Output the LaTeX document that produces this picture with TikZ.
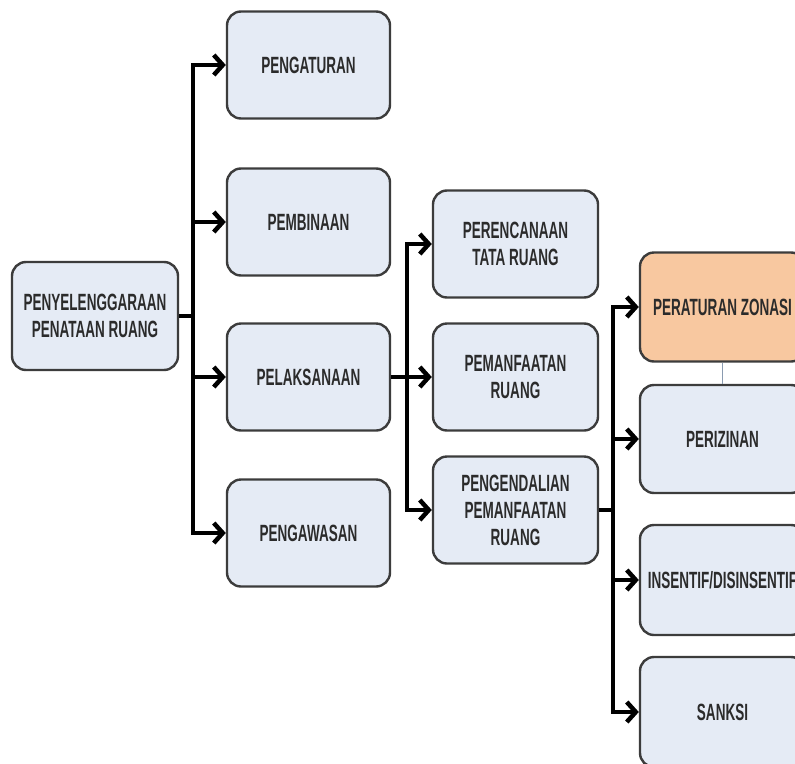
\documentclass[tikz,border=0pt]{standalone}
\usepackage{fontspec}
\newfontfamily\boxfont[FakeStretch=0.575]{Liberation Sans}
\usetikzlibrary{arrows.meta}
\definecolor{boxfill}{HTML}{E5EBF5}
\definecolor{boxline}{HTML}{3C3C3C}
\definecolor{zonefill}{HTML}{F8C8A0}
\definecolor{txt}{HTML}{2B2B2B}
\definecolor{thinline}{HTML}{8A9BB0}
\begin{document}
\begin{tikzpicture}[x=1pt,y=-1pt,
  box/.style={draw=boxline, line width=2.4pt, fill=boxfill, rounded corners=14pt,
    minimum width=163pt, minimum height=107pt, align=center, inner sep=2pt,
    font=\boxfont\bfseries\fontsize{23.5}{27}\selectfont, text=txt},
  zone/.style={box, fill=zonefill},
  conn/.style={line width=4.5pt, black},
  arr/.style={conn, -{Straight Barb[length=9pt,width=20pt]}}]
\useasboundingbox (0,0) rectangle (795,763);
\fill[white] (0,0) rectangle (795,763);
\clip (0,0) rectangle (795,763);

\node[box, minimum width=166pt, minimum height=108pt] (n0) at (95,316) {PENYELENGGARAAN\\PENATAAN RUANG};

\node[box] (a1) at (308.5,65) {PENGATURAN};
\node[box] (a2) at (308.5,222) {PEMBINAAN};
\node[box] (a3) at (308.5,377) {PELAKSANAAN};
\node[box] (a4) at (308.5,533) {PENGAWASAN};

\node[box, minimum width=165pt] (b1) at (515.5,244) {PERENCANAAN\\TATA RUANG};
\node[box, minimum width=165pt] (b2) at (515.5,377) {PEMANFAATAN\\RUANG};
\node[box, minimum width=165pt] (b3) at (515.5,510) {PENGENDALIAN\\PEMANFAATAN\\RUANG};

\node[zone, minimum width=165pt, minimum height=109pt] (c1) at (722.5,307) {PERATURAN ZONASI};
\node[box, minimum width=165pt, minimum height=108pt] (c2) at (722.5,439) {PERIZINAN};
\node[box, minimum width=165pt, minimum height=110pt] (c3) at (722.5,580) {INSENTIF/DISINSENTIF};
\node[box, minimum width=165pt, minimum height=110pt] (c4) at (722.5,712) {SANKSI};

\coordinate (j1) at (193,0);
\coordinate (j2) at (407,0);
\coordinate (j3) at (613,0);

\foreach \t in {a1,a2,a3,a4}
  \draw[arr] (n0.east) -- (j1 |- n0.east) |- (\t.west);
\foreach \t in {b1,b2,b3}
  \draw[arr] (a3.east) -- (j2 |- a3.east) |- (\t.west);
\foreach \t in {c1,c2,c3,c4}
  \draw[arr] (b3.east) -- (j3 |- b3.east) |- (\t.west);

\draw[thinline, line width=1pt] (c1.south) -- (c2.north);
\end{tikzpicture}
\end{document}
